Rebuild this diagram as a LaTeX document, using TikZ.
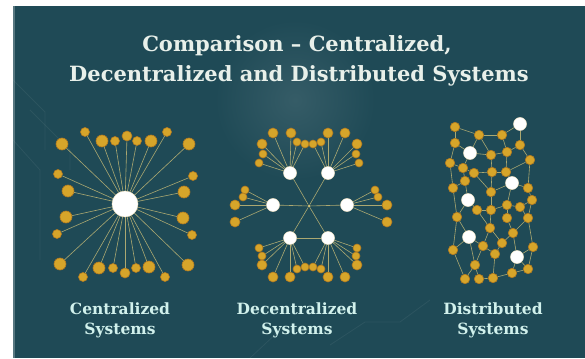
\documentclass[tikz,border=0pt]{standalone}
\usepackage{fontspec}
\setmainfont{DejaVu Serif}
\usetikzlibrary{positioning}

\definecolor{bgteal}{RGB}{31,74,86}
\definecolor{nodegold}{RGB}{214,165,42}
\definecolor{goldrim}{RGB}{178,122,32}
\definecolor{linkgold}{RGB}{206,192,120}
\definecolor{titlewhite}{RGB}{232,240,234}

\begin{document}
\begin{tikzpicture}[x=1pt,y=-1pt,
  peer/.style={circle,fill=nodegold,draw=goldrim,line width=0.6pt,inner sep=0pt,minimum size=#1},
  peer/.default=10pt,
  hub/.style={circle,fill=white,draw=white!75!nodegold,line width=0.5pt,inner sep=0pt,minimum size=#1},
  hub/.default=13pt,
  link/.style={draw=linkgold,line width=0.6pt,opacity=0.8},
  trace/.style={draw=white,line width=0.8pt,opacity=0.06},
  headline/.style={font=\bfseries\fontsize{21}{25}\selectfont,text=titlewhite,anchor=base},
  syslabel/.style={font=\bfseries\fontsize{15.5}{18}\selectfont,text=titlewhite!90!cyan,anchor=base}]
\useasboundingbox (0,0) rectangle (585,358);
\fill[white] (0,0) rectangle (585,358);
\fill[bgteal] (13,6) rectangle (585,358);
\fill[bgteal!75!white] (13,6) rectangle (15,358);
\shade[inner color=bgteal!90!white,outer color=bgteal] (295,100) circle (80);

% faint board traces
\draw[trace] (13,80) -- (45,112) -- (45,150);
\draw[trace] (30,110) -- (70,150) -- (70,170);
\draw[trace] (13,140) -- (40,170) -- (40,260);
\draw[trace] (330,345) -- (365,322) -- (400,322) -- (430,300);
\draw[trace] (250,358) -- (280,330) -- (330,330);

% title
\node[headline] (head1) at (297,52) {Comparison -- Centralized,};
\node[headline] (head2) at (299,82) {Decentralized and Distributed Systems};

% centralized: one hub, every node wired to it
\node[hub=26pt] (c0) at (125,204) {};
\foreach \x/\y/\s [count=\i] in {85/132/9, 62/144/12, 102/141/12, 115/141/9, 127/136/10, 137/141/9,
    151/141/12, 167/132/9, 189/144/12, 58/174/9, 68/191/12, 66/217/12, 57/234/9, 60/264/12,
    193/176/9, 184/192/12, 183/218/12, 192/235/9, 188/265/12, 83/277/9, 99/268/12, 113/268/9,
    125/273/10, 136/268/9, 149/267/12, 165/277/9}{
  \node[peer=\s pt] (c\i) at (\x,\y) {};
  \draw[link] (c0) -- (c\i);
}

% decentralized: six local hubs around a joint
\node[circle,fill=linkgold,inner sep=0pt,minimum size=3pt] (e0) at (309,206) {};
\node[hub] (e1) at (290,173) {};
\node[hub] (e2) at (328,173) {};
\node[hub] (e3) at (273,205) {};
\node[hub] (e4) at (347,205) {};
\node[hub] (e5) at (290,238) {};
\node[hub] (e6) at (328,238) {};
\draw[link] (e1) -- (e0) -- (e6);
\draw[link] (e2) -- (e0) -- (e5);
\draw[link] (e3) -- (e0) -- (e4);
\draw[link] (e5) -- (e6);
\foreach \w/\x/\y/\s [count=\i] in {e1/273/133/10, e1/291/133/10, e1/297/142/8, e1/305/144/8,
    e1/262/144/10, e1/263/154/8, e1/259/163/8,
    e2/328/133/10, e2/345/133/10, e2/321/142/8, e2/313/144/8, e2/357/144/10, e2/356/154/8, e2/359/163/8,
    e3/245/190/8, e3/243/197/8, e3/235/205/10, e3/235/222/10,
    e4/375/190/8, e4/378/197/8, e4/387/205/10, e4/387/222/10,
    e5/259/248/8, e5/262/256/8, e5/262/265/10, e5/273/277/10, e5/290/277/10, e5/297/269/8, e5/305/267/8,
    e6/357/248/8, e6/356/256/8, e6/357/265/10, e6/345/277/10, e6/328/277/10, e6/321/269/8, e6/313/267/8}{
  \node[peer=\s pt] (g\i) at (\x,\y) {};
  \draw[link] (\w) -- (g\i);
}

% distributed: a mesh with no center
\foreach \x/\y [count=\i] in {520/124, 470/153, 512/183, 468/200, 469/237, 517/257}
  \node[hub] (w\i) at (\x,\y) {};
\foreach \x/\y [count=\i] in {455/127, 479/135, 502/135, 455/143, 520/145, 491/155, 507/152,
    450/163, 463/168, 474/173, 492/172, 506/172, 530/160, 465/181, 453/188, 491/192, 528/188,
    532/200, 477/210, 491/210, 507/205, 520/207, 457/217, 507/218, 528/218, 490/228, 513/233,
    453/250, 483/246, 502/243, 533/247, 495/254, 475/265, 528/269, 512/273, 465/279, 479/279, 493/278}
  \node[peer=9.5pt] (d\i) at (\x,\y) {};
\foreach \a/\b in {d1/d2, d1/d4, d2/d3, d3/w1, d2/w2, d3/d7, d4/w2, d4/d8, d2/d6, d6/d7, d7/d5,
    d5/w1, d5/d13, d7/d12, d6/d11, w2/d9, w2/d6, d8/d9, d8/d15, d9/d10, d9/d14, d10/d11,
    d11/d12, d12/d13, d12/w3, d11/d16, d13/d17, d10/d16, d14/d15, d14/w4, d15/d23, w4/d19,
    d16/w3, d16/d20, w3/d17, w3/d21, d17/d18, d18/d22, d18/d25, d21/d22, d20/d21, d19/d20,
    d19/d26, w4/d23, d23/w5, d23/d28, d20/d26, d21/d24, d24/d27, d22/d25, d25/d27, d25/d31,
    d26/d29, d26/d30, d27/d30, d29/w5, d29/d32, d30/d32, d27/w6, d31/w6, d31/d34, w6/d34,
    w6/d35, d32/d38, d28/w5, d28/d36, w5/d33, d33/d36, d33/d37, d37/d38, d38/d35, d35/d34, d29/d33}
  \draw[link] (\a) -- (\b);

% captions
\node[syslabel] (lab1) at (120,314) {Centralized};
\node[syslabel] (lab1b) at (120,334) {Systems};
\node[syslabel] (lab2) at (297,314) {Decentralized};
\node[syslabel] (lab2b) at (297,334) {Systems};
\node[syslabel] (lab3) at (493,314) {Distributed};
\node[syslabel] (lab3b) at (493,334) {Systems};
\end{tikzpicture}
\end{document}
